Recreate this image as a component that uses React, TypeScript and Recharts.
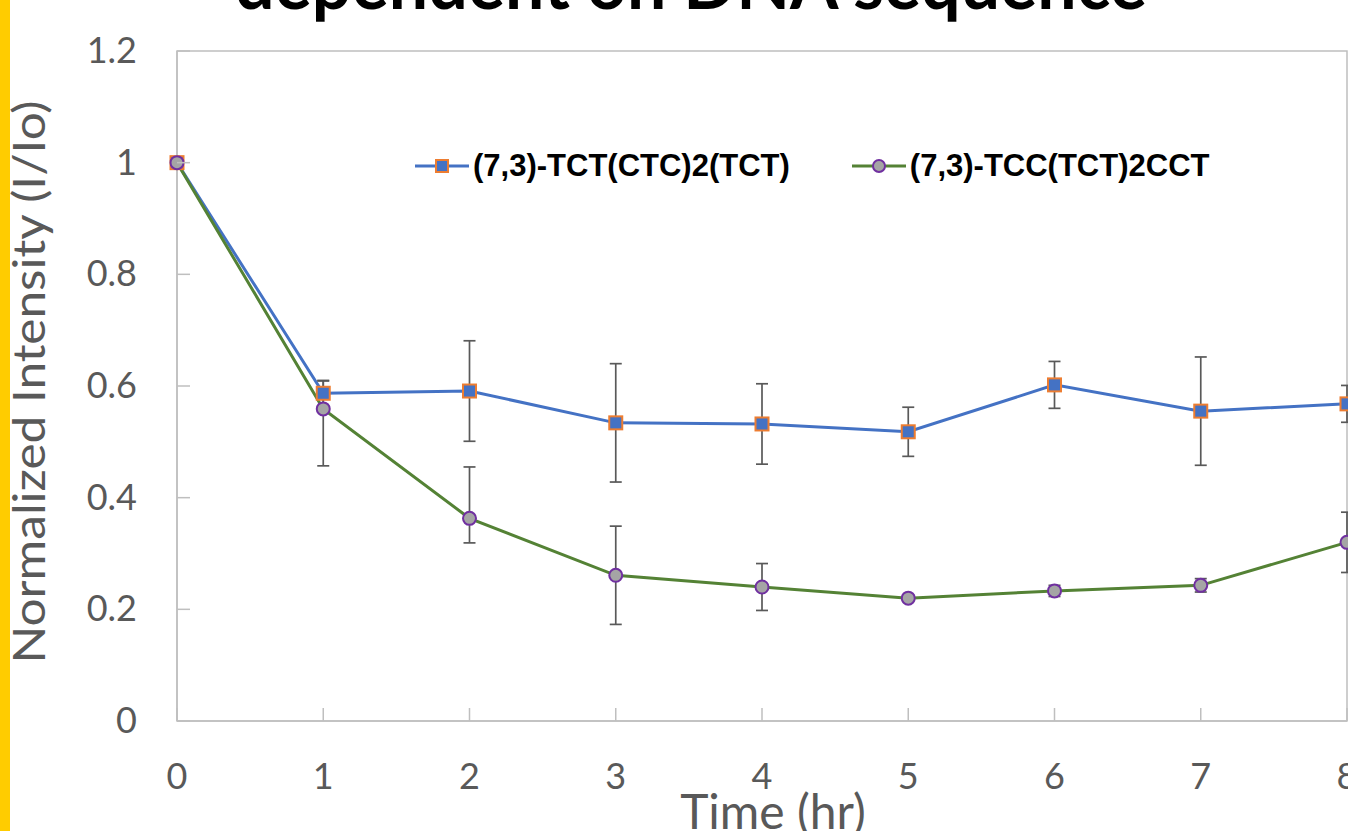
import React from 'react';
import {
  LineChart,
  Line,
  XAxis,
  YAxis,
  ErrorBar,
  Legend,
  ReferenceArea,
} from 'recharts';

// time points (hr)
const TIME = [0, 1, 2, 3, 4, 5, 6, 7, 8];

// (7,3)-TCT(CTC)2(TCT)
const TCT_VALUES = [1.0, 0.587, 0.591, 0.534, 0.532, 0.518, 0.602, 0.555, 0.568];
const TCT_ERR = [0, 0.023, 0.09, 0.106, 0.072, 0.044, 0.042, 0.097, 0.033];

// (7,3)-TCC(TCT)2CCT  ([low, high] where the bars are uneven)
const TCC_VALUES = [1.0, 0.559, 0.363, 0.261, 0.24, 0.22, 0.233, 0.243, 0.32];
const TCC_ERR: (number | [number, number])[] = [0, [0.102, 0.05], [0.044, 0.092], 0.088, 0.042, 0.006, 0.01, 0.012, 0.054];

const X_TICKS = [0, 1, 2, 3, 4, 5, 6, 7, 8];
const Y_TICKS = [0, 0.2, 0.4, 0.6, 0.8, 1, 1.2];
const Y_TICK_LABELS = ['0', '0.2', '0.4', '0.6', '0.8', '1', '1.2'];

const SERIES = [
  { key: 'tct', name: '(7,3)-TCT(CTC)2(TCT)', line: '#4472C4', fill: '#4472C4', edge: '#ED7D31', shape: 'square' },
  { key: 'tcc', name: '(7,3)-TCC(TCT)2CCT', line: '#548235', fill: '#A5A5A5', edge: '#7030A0', shape: 'circle' },
];

const data = TIME.map((t, i) => ({
  time: t,
  tct: TCT_VALUES[i],
  tctErr: TCT_ERR[i],
  tcc: TCC_VALUES[i],
  tccErr: TCC_ERR[i],
}));

const W = 1348;
const H = 831;
const PLOT_LEFT = 177;
const PLOT_TOP = 51;
const PLOT_BOTTOM = 721;
const AXIS_GRAY = '#BFBFBF';
const TEXT_GRAY = '#595959';
const FONT = 'Lato, "Open Sans", sans-serif';

const SquareDot = (props: any) => {
  const { cx, cy, index } = props;
  if (cx == null || cy == null) return null;
  return (
    <rect key={`sq-${index}`} x={cx - 6.5} y={cy - 6.5} width={13} height={13}
      fill={SERIES[0].fill} stroke={SERIES[0].edge} strokeWidth={2} />
  );
};

const CircleDot = (props: any) => {
  const { cx, cy, index } = props;
  if (cx == null || cy == null) return null;
  return (
    <circle key={`ci-${index}`} cx={cx} cy={cy} r={6.5}
      fill={SERIES[1].fill} stroke={SERIES[1].edge} strokeWidth={2} />
  );
};

const XTick = (props: any) => {
  const { x, payload } = props;
  return (
    <g>
      <line x1={x} x2={x} y1={PLOT_BOTTOM} y2={PLOT_BOTTOM - 13} stroke={AXIS_GRAY} strokeWidth={1.5} />
      <text x={x} y={789} textAnchor="middle" fill={TEXT_GRAY} fontSize={36} fontFamily={FONT}>
        {payload.value}
      </text>
    </g>
  );
};

const YTick = (props: any) => {
  const { y, payload, index } = props;
  return (
    <g>
      <line x1={PLOT_LEFT} x2={PLOT_LEFT + 13} y1={y} y2={y} stroke={AXIS_GRAY} strokeWidth={1.5} />
      <text x={137} y={y + 12} textAnchor="end" fill={TEXT_GRAY} fontSize={36} fontFamily={FONT}>
        {Y_TICK_LABELS[index] ?? payload.value}
      </text>
    </g>
  );
};

const renderLegend = () => (
  <div style={{ display: 'flex', alignItems: 'center', gap: 62 }}>
    {SERIES.map((s) => (
      <div key={s.key} style={{ display: 'flex', alignItems: 'center' }}>
        <svg width={54} height={20}>
          <line x1={0} x2={54} y1={10} y2={10} stroke={s.line} strokeWidth={3} />
          {s.shape === 'square' ? (
            <rect x={21} y={4} width={12} height={12} fill={s.fill} stroke={s.edge} strokeWidth={2} />
          ) : (
            <circle cx={27} cy={10} r={6} fill={s.fill} stroke={s.edge} strokeWidth={2} />
          )}
        </svg>
        <span style={{
          marginLeft: 4, fontFamily: '"Liberation Sans", Arial, sans-serif', fontWeight: 700,
          fontSize: 31, color: '#000', lineHeight: '36px', whiteSpace: 'nowrap',
        }}>
          {s.name}
        </span>
      </div>
    ))}
  </div>
);

export default function App() {
  return (
    <div style={{ position: 'absolute', left: 0, top: 0, width: W, height: H, overflow: 'hidden', background: '#fff' }}>
      <div style={{ position: 'absolute', left: 0, top: 0, width: 10, height: H, background: '#FFCC00' }} />
      <svg width={W} height={60} style={{ position: 'absolute', left: 0, top: 0 }}>
        <text x={691} y={9} textAnchor="middle" fontFamily={FONT} fontWeight={700} fontSize={72}
          fill="#000" textLength={912} lengthAdjust="spacingAndGlyphs">
          dependent on DNA sequence
        </text>
      </svg>
      <LineChart width={W} height={H} data={data} margin={{ top: PLOT_TOP, right: 1, bottom: 0, left: 0 }}>
        <ReferenceArea x1={0} x2={8} y1={0} y2={1.2} fill="none" stroke={AXIS_GRAY} strokeWidth={1.5} />
        <XAxis
          dataKey="time"
          type="number"
          domain={[0, 8]}
          ticks={X_TICKS}
          height={110}
          axisLine={{ stroke: AXIS_GRAY, strokeWidth: 1.5 }}
          tickLine={false}
          tick={<XTick />}
          interval={0}
          label={() => (
            <text x={773} y={829} textAnchor="middle" fill={TEXT_GRAY} fontSize={48} fontFamily={FONT}>
              Time (hr)
            </text>
          )}
        />
        <YAxis
          type="number"
          domain={[0, 1.2]}
          ticks={Y_TICKS}
          width={PLOT_LEFT}
          axisLine={{ stroke: AXIS_GRAY, strokeWidth: 1.5 }}
          tickLine={false}
          tick={<YTick />}
          interval={0}
          label={() => (
            <text x={45} y={382} transform="rotate(-90, 45, 382)" textAnchor="middle" fill={TEXT_GRAY}
              fontSize={44} fontFamily={FONT} textLength={563} lengthAdjust="spacingAndGlyphs">
              Normalized Intensity (I/Io)
            </text>
          )}
        />
        <Legend
          layout="horizontal"
          verticalAlign="middle"
          align="center"
          content={renderLegend}
          wrapperStyle={{ position: 'absolute', top: 148, left: 415, width: 'auto', height: 'auto' }}
        />
        <Line dataKey="tct" name={SERIES[0].name} stroke={SERIES[0].line} strokeWidth={3}
          dot={SquareDot} activeDot={false} isAnimationActive={false}>
          <ErrorBar dataKey="tctErr" direction="y" width={6} stroke={TEXT_GRAY} strokeWidth={1.7} />
        </Line>
        <Line dataKey="tcc" name={SERIES[1].name} stroke={SERIES[1].line} strokeWidth={3}
          dot={CircleDot} activeDot={false} isAnimationActive={false}>
          <ErrorBar dataKey="tccErr" direction="y" width={6} stroke={TEXT_GRAY} strokeWidth={1.7} />
        </Line>
      </LineChart>
    </div>
  );
}
